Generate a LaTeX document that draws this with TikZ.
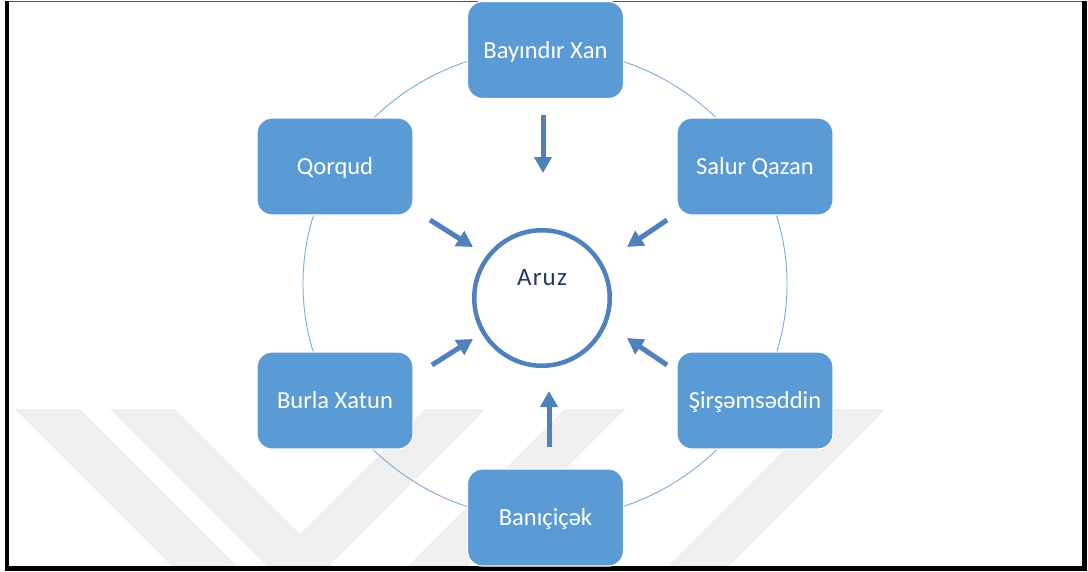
\documentclass[tikz,border=0pt]{standalone}
\usepackage{fontspec}
\setmainfont{Carlito}
\usetikzlibrary{arrows.meta}

\definecolor{boxblue}{HTML}{5B9BD5}
\definecolor{arrowblue}{HTML}{4F81BD}
\definecolor{ringblue}{HTML}{4F81BD}
\definecolor{hubtext}{HTML}{1F3864}
\definecolor{orbit}{HTML}{7DAADC}
\definecolor{markgray}{HTML}{EFEFEF}
\definecolor{framegray}{HTML}{555555}

\begin{document}
\begin{tikzpicture}[x=1pt,y=-1pt,
  member/.style={draw=white, line width=1.2pt, fill=boxblue,
    rounded corners=15pt, minimum width=156pt, minimum height=97pt,
    inner sep=0pt, text=white, text height=16pt, text depth=0pt,
    font=\fontsize{24.5}{28}\selectfont},
  hub/.style={circle, draw=ringblue, line width=4.5pt, fill=white,
    minimum size=135.5pt, inner sep=0pt},
  hublabel/.style={inner sep=0pt, text=hubtext,
    font=\fontsize{25}{30}\selectfont\addfontfeature{LetterSpace=5}},
  flow/.style={draw=arrowblue, line width=5pt,
    -{Triangle[width=17pt,length=16pt]}},
  band/.style={fill=markgray, draw=none},
]
\useasboundingbox (0,0) rectangle (1088,571);
\fill[white] (0,0) rectangle (1088,571);

% faint diagonal bands in the lower part
\begin{scope}
  \clip (9,2) rectangle (1082,566);
  \fill[band] (15,409) -- (80,409) -- (280,609) -- (215,609) -- cycle;
  \fill[band] (110,409) -- (175,409) -- (375,609) -- (310,609) -- cycle;
  \fill[band] (425,409) -- (485,409) -- (285,609) -- (225,609) -- cycle;
  \fill[band] (565,409) -- (625,409) -- (425,609) -- (365,609) -- cycle;
  \fill[band] (825,409) -- (885,409) -- (685,609) -- (625,609) -- cycle;
\end{scope}

% frame
\draw[framegray, line width=1pt] (9,1.5) -- (1082,1.5);
\draw[black, line width=4.5pt] (7,1) -- (7,568.5) -- (1084.5,568.5) -- (1084.5,1);

% orbit through the six members
\draw[orbit, line width=0.9pt] (545,284) ellipse [x radius=242, y radius=235];

% members of the cycle
\node[member] (bayindir) at (545.5,50)    {Bayındır Xan};
\node[member] (salur)    at (755,166.5)   {Salur Qazan};
\node[member] (sirsem)   at (755,400.5)   {Şirşəmsəddin};
\node[member] (banicicek) at (545.5,517.5) {Banıçiçək};
\node[member] (burla)    at (335,400.5)   {Burla Xatun};
\node[member] (qorqud)   at (335,166.5)   {Qorqud};

% hub
\node[hub] (aruz) at (542,298) {};
\node[hublabel] (aruzlabel) at (542,277.5) {Aruz};

% arrow ends
\coordinate (bayindirFrom) at (543,115);
\coordinate (bayindirTo)   at (543,173);
\coordinate (qorqudFrom)   at (430,220);
\coordinate (qorqudTo)     at (473,247);
\coordinate (salurFrom)    at (667,220);
\coordinate (salurTo)      at (627,247);
\coordinate (burlaFrom)    at (432,365);
\coordinate (burlaTo)      at (473,339);
\coordinate (sirsemFrom)   at (667,365);
\coordinate (sirsemTo)     at (627,338);
\coordinate (baniFrom)     at (549,447);
\coordinate (baniTo)       at (549,391);

\draw[flow] (bayindirFrom) -- (bayindirTo);
\draw[flow] (qorqudFrom) -- (qorqudTo);
\draw[flow] (salurFrom) -- (salurTo);
\draw[flow] (burlaFrom) -- (burlaTo);
\draw[flow] (sirsemFrom) -- (sirsemTo);
\draw[flow] (baniFrom) -- (baniTo);
\end{tikzpicture}
\end{document}
